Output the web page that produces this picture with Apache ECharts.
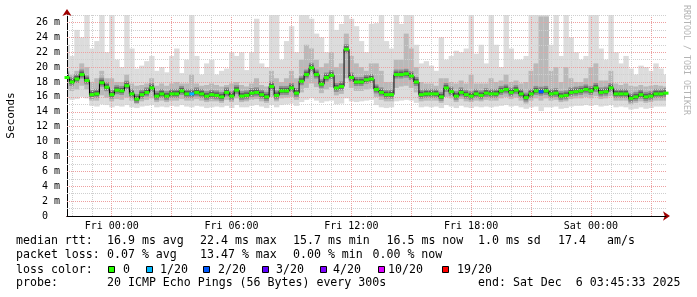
<!DOCTYPE html>
<html><head><meta charset="utf-8">
<script src="https://cdn.jsdelivr.net/npm/echarts@6/dist/echarts.min.js"></script>
<style>html,body{margin:0;padding:0;background:#fff}#c{width:697px;height:297px}</style>
</head><body><div id="c"></div>
<script>
// time axis in hours relative to Fri 00:00, one sample every 15 minutes
const startHour = -2.24;
const endHour = 27.76;
const stepHours = 0.25;

// median RTT (ms)
const median = [
18.6,18.0,18.4,19.0,18.2,16.3,16.4,17.9,17.3,16.3,
16.9,16.8,17.5,16.4,15.7,16.3,16.6,17.2,16.1,16.4,
16.1,16.4,16.4,16.8,16.4,16.4,16.6,16.4,16.1,16.3,
16.2,16.0,16.6,16.1,16.9,16.1,16.2,16.5,16.6,16.3,
16.0,17.4,16.2,16.8,16.8,17.2,16.5,18.1,19.0,19.9,
19.0,17.7,18.6,18.9,17.2,17.4,22.4,18.6,18.0,18.0,
18.3,18.4,17.0,16.6,16.3,16.3,19.0,19.0,19.1,18.8,
18.0,16.3,16.4,16.4,16.4,16.0,17.2,16.7,16.1,16.6,
16.3,16.1,16.4,16.2,16.5,16.4,16.4,16.8,17.0,16.6,
16.9,16.4,15.9,16.4,16.8,16.7,16.8,16.4,16.5,16.1,
16.2,16.6,16.7,16.8,17.0,16.8,17.2,16.6,16.7,17.2,
16.4,16.4,16.4,15.8,16.0,16.3,16.0,16.1,16.4,16.4,
16.5];

// smoke: lowest ping
const smokeMin = [
15.8,15.6,15.7,16.0,15.8,14.8,14.7,15.0,14.9,14.6,
14.8,14.7,14.9,14.6,14.5,14.7,14.8,14.9,14.6,14.7,
14.6,14.8,14.7,14.9,14.7,14.6,14.8,14.7,14.5,14.6,
14.7,14.6,14.8,14.5,14.9,14.6,14.6,14.8,14.9,14.7,
14.5,14.9,14.6,14.9,15.0,15.1,14.8,15.3,15.6,15.8,
15.5,15.2,15.4,15.5,15.0,15.1,15.8,15.4,15.3,15.4,
15.5,15.6,14.9,14.6,14.5,14.6,15.4,15.5,15.6,15.5,
15.2,14.6,14.7,14.6,14.7,14.5,14.9,14.7,14.5,14.8,
14.6,14.5,14.7,14.6,14.7,14.6,14.7,14.8,14.9,14.7,
14.8,14.6,14.4,14.6,14.7,14.1,14.6,14.6,14.7,14.4,
14.5,14.7,14.8,14.8,14.9,14.8,14.9,14.7,14.8,14.9,
14.6,14.7,14.6,14.3,14.4,14.6,14.4,14.5,14.7,14.7,
14.7];

// smoke: lower edge of the denser band
const smokeLow = [
17.0,16.8,17.0,17.5,17.0,15.5,15.5,16.2,15.9,15.4,
15.7,15.6,15.9,15.5,15.1,15.4,15.6,15.8,15.3,15.5,
15.3,15.5,15.5,15.7,15.5,15.5,15.7,15.5,15.3,15.4,
15.4,15.2,15.6,15.3,15.8,15.3,15.4,15.6,15.7,15.4,
15.2,16.0,15.4,15.8,15.9,16.0,15.6,16.6,17.2,17.8,
17.3,16.5,17.0,17.3,16.2,16.4,18.5,17.2,16.8,16.8,
17.0,17.1,16.0,15.6,15.4,15.4,17.2,17.4,17.5,17.2,
16.6,15.4,15.5,15.5,15.5,15.2,16.0,15.8,15.3,15.7,
15.4,15.3,15.5,15.4,15.6,15.5,15.5,15.8,16.0,15.7,
15.9,15.5,15.1,15.5,15.8,15.5,15.8,15.5,15.6,15.3,
15.4,15.7,15.8,15.8,16.0,15.8,16.1,15.7,15.8,16.1,
15.5,15.5,15.5,15.0,15.2,15.4,15.2,15.3,15.5,15.5,
15.5];

// smoke: upper edge of the denser band
const smokeHigh = [
19.5,19.0,19.5,20.5,20.0,18.0,18.5,19.5,18.5,18.5,
18.0,18.0,19.0,17.8,17.5,17.6,17.8,18.5,17.5,17.8,
17.5,17.8,18.0,17.8,17.8,19.0,17.8,17.5,17.6,17.8,
17.6,17.4,17.6,17.8,18.0,17.6,17.4,17.8,18.5,17.6,
17.4,19.5,18.5,18.0,18.5,19.5,18.5,21.0,23.0,22.5,
21.0,20.0,20.5,22.0,20.0,20.5,24.5,21.5,20.5,20.0,
19.5,20.5,20.5,19.5,18.0,18.0,21.0,21.0,24.5,22.5,
20.0,18.0,17.8,17.8,17.5,18.5,18.5,18.0,17.8,18.2,
17.8,19.0,17.8,17.8,17.8,18.5,18.0,18.2,19.0,18.0,
18.2,17.8,18.0,19.5,20.5,26.8,26.8,19.5,20.0,18.0,
20.0,18.5,18.0,18.0,18.5,20.0,20.5,18.2,18.2,19.5,
17.8,17.6,17.8,17.5,17.4,17.6,17.4,17.5,17.6,17.5,
17.4];

// smoke: highest ping
const smokeMax = [
23.0,21.5,25.0,24.0,27.0,22.5,23.5,27.0,22.0,27.0,
21.0,20.0,27.0,22.5,19.8,20.2,20.8,21.5,19.5,20.0,
19.3,21.5,22.5,19.2,21.0,27.0,21.5,19.0,20.5,21.0,
19.0,19.5,19.8,22.0,21.5,22.0,19.6,22.0,26.5,20.5,
20.0,27.0,27.0,21.0,23.5,25.5,22.0,27.0,27.0,26.5,
24.5,24.0,22.0,27.0,25.0,25.8,27.0,26.5,25.5,23.5,
22.0,25.8,25.9,27.0,23.5,22.5,27.0,25.8,27.0,27.0,
23.0,20.5,20.8,20.2,19.5,24.0,21.0,21.5,22.2,22.0,
22.5,27.0,21.8,23.0,20.5,27.0,23.0,20.0,27.0,22.5,
21.0,21.0,21.5,27.0,27.0,27.0,27.0,23.0,27.0,21.5,
27.0,24.0,22.0,21.0,21.5,27.0,27.0,22.5,21.0,27.0,
22.0,20.5,21.5,19.8,19.0,20.2,20.0,19.5,20.5,19.8,
19.0];

// samples with packet loss: [sample index, loss colour index]
const lossSamples = [[25, 1], [95, 2]];

const xTickValues = [0, 6, 12, 18, 24];
const xTickLabels = ['Fri 00:00', 'Fri 06:00', 'Fri 12:00', 'Fri 18:00', 'Sat 00:00'];
const yTickValues = [0,2,4,6,8,10,12,14,16,18,20,22,24,26];
const yTickLabels = ['0\u00a0\u00a0','2 m','4 m','6 m','8 m','10 m','12 m','14 m','16 m','18 m','20 m','22 m','24 m','26 m'];

const lossLabels = ['0', '1/20', '2/20', '3/20', '4/20', '10/20', '19/20'];
const lossColors = ['#26ff00', '#00b8ff', '#0059ff', '#5e00ff', '#7e00ff', '#dd00ff', '#ff0000'];

const statsLine1 = [['median rtt:',16],['16.9 ms avg',107],['22.4 ms max',200],['15.7 ms min',293],['16.5 ms now',386.5],['1.0 ms sd',478],['17.4',558],['am/s',607]];
const statsLine2 = [['packet loss:',16],['0.07 % avg',107],['13.47 % max',200],['0.00 % min',293],['0.00 % now',372.5]];
const probeLine = [['probe:',16],['20 ICMP Echo Pings (56 Bytes) every 300s',107],['end: Sat Dec  6 03:45:33 2025',478]];
const lossSwatchX = [108, 146, 203, 262, 320, 378, 442];
const lossLabelX = [123, 160, 218, 276, 333, 388, 457];

// ---- build ----
const times = median.map((_, i) => +(startHour + i * stepHours).toFixed(3));
const pts = arr => arr.map((v, i) => [times[i], v]);
const lossOf = i => { const f = lossSamples.find(p => p[0] === i); return f ? f[1] : 0; };
const smokeRows = median.map((m, i) => [times[i], smokeMin[i], smokeLow[i], smokeHigh[i], smokeMax[i], m]);

const MONO = '"DejaVu Sans Mono", "Liberation Mono", monospace';
const RED = '#eda0a0';
const GRAY = '#cfcfcf';

const vGrid = [];
for (let h = -2; h <= 27; h++) vGrid.push({ xAxis: h, lineStyle: { color: h % 3 === 0 ? RED : GRAY } });
const hGrid = [];
for (let v = 1; v <= 27; v++) hGrid.push({ yAxis: v, lineStyle: { color: v % 2 === 0 ? RED : GRAY } });

function renderSmoke(params, api) {
  const x = api.value(0);
  const w = api.size([stepHours, 0])[0] + 0.4;
  const yMin = api.coord([x, api.value(1)])[1];
  const yLow = api.coord([x, api.value(2)])[1];
  const yHigh = api.coord([x, api.value(3)])[1];
  const yMax = api.coord([x, api.value(4)])[1];
  const c = api.coord([x, api.value(5)]);
  const left = c[0] - w / 2;
  return {
    type: 'group',
    children: [
      { type: 'rect', shape: { x: left, y: yMax, width: w, height: yMin - yMax }, style: { fill: '#dcdcdc' } },
      { type: 'rect', shape: { x: left, y: yHigh, width: w, height: yLow - yHigh }, style: { fill: '#b9b9b9' } },
      { type: 'rect', shape: { x: left, y: c[1] - 5, width: w, height: 9 }, style: { fill: '#8f8f8f' } },
      { type: 'rect', shape: { x: left, y: c[1] - 3, width: w, height: 5 }, style: { fill: '#5e5e5e' } }
    ]
  };
}

const graphics = [];
const textEl = (t, x, y, size, color) => ({
  type: 'text', x, y, silent: true,
  style: { text: t, font: size + 'px ' + MONO, fill: color || '#000',
           align: 'left', verticalAlign: 'middle', textAlign: 'left', textVerticalAlign: 'middle' }
});
statsLine1.forEach(([t, x]) => graphics.push(textEl(t, x, 241, 11.6)));
statsLine2.forEach(([t, x]) => graphics.push(textEl(t, x, 255, 11.6)));
graphics.push(textEl('loss color:', 16, 269.5, 11.6));
lossLabels.forEach((t, i) => {
  graphics.push({ type: 'rect', silent: true, shape: { x: lossSwatchX[i] + 0.5, y: 266.5, width: 6, height: 6 },
                  style: { fill: lossColors[i], stroke: '#000', lineWidth: 1 } });
  graphics.push(textEl(t, lossLabelX[i], 269.5, 11.6));
});
probeLine.forEach(([t, x]) => graphics.push(textEl(t, x, 283, 11.6)));
graphics.push(Object.assign(textEl('RRDTOOL / TOBI OETIKER', 686, 5, 8.3, '#b4b4b4'), { rotation: -Math.PI / 2 }));

const chart = echarts.init(document.getElementById('c'));
chart.setOption({
  animation: false,
  backgroundColor: '#fff',
  grid: { left: 67, right: 31, top: 15, bottom: 81, containLabel: false, outerBoundsMode: 'none' },
  xAxis: [{
    type: 'value', min: startHour, max: endHour, z: 3,
    axisLine: { show: true, onZero: false, lineStyle: { color: '#000', width: 1 } },
    axisTick: { show: false }, splitLine: { show: false },
    axisLabel: { customValues: xTickValues, formatter: v => xTickLabels[xTickValues.indexOf(v)] || '',
                 fontFamily: MONO, fontSize: 10, color: '#000', margin: 5 }
  }, {
    type: 'value', min: startHour, max: endHour, position: 'bottom', z: 2,
    axisLine: { show: true, onZero: false, symbol: ['none', 'arrow'], symbolSize: [7, 7], symbolOffset: [0, 4],
                lineStyle: { color: '#a00000', width: 1 } },
    axisTick: { show: false }, splitLine: { show: false }, axisLabel: { show: false }
  }],
  yAxis: [{
    type: 'value', min: 0, max: 27, interval: 1, z: 3,
    axisLine: { show: true, onZero: false, lineStyle: { color: '#000', width: 1 } },
    axisTick: { show: false }, splitLine: { show: false },
    axisLabel: { formatter: v => { const i = yTickValues.indexOf(v); return i < 0 ? '' : yTickLabels[i]; },
                 fontFamily: MONO, fontSize: 10, color: '#000', margin: 7, showMaxLabel: false },
    name: 'Seconds', nameLocation: 'middle', nameGap: 50, nameRotate: 90,
    nameTextStyle: { fontFamily: MONO, fontSize: 11, color: '#000' }
  }, {
    type: 'value', min: 0, max: 27, position: 'left', z: 2,
    axisLine: { show: true, onZero: false, symbol: ['none', 'arrow'], symbolSize: [7, 7], symbolOffset: [0, 6],
                lineStyle: { color: '#a00000', width: 1 } },
    axisTick: { show: false }, splitLine: { show: false }, axisLabel: { show: false }
  }],
  series: [
    { name: 'smoke', type: 'custom', renderItem: renderSmoke, data: smokeRows, clip: true, silent: true, z: 2,
      encode: { x: 0, y: [1, 4] } },
    { name: 'median', type: 'line', step: 'middle', data: pts(median), silent: true,
      symbol: 'rect', symbolSize: [5, 3], showSymbol: true, showAllSymbol: true,
      lineStyle: { color: '#000', width: 1 },
      itemStyle: { color: p => lossColors[lossOf(p.dataIndex)], borderWidth: 0 }, z: 10,
      markLine: { silent: true, symbol: 'none', animation: false, z: 4, label: { show: false },
                  lineStyle: { type: [1, 1], width: 1 }, data: vGrid.concat(hGrid) } }
  ],
  graphic: graphics
});
</script>
</body></html>
